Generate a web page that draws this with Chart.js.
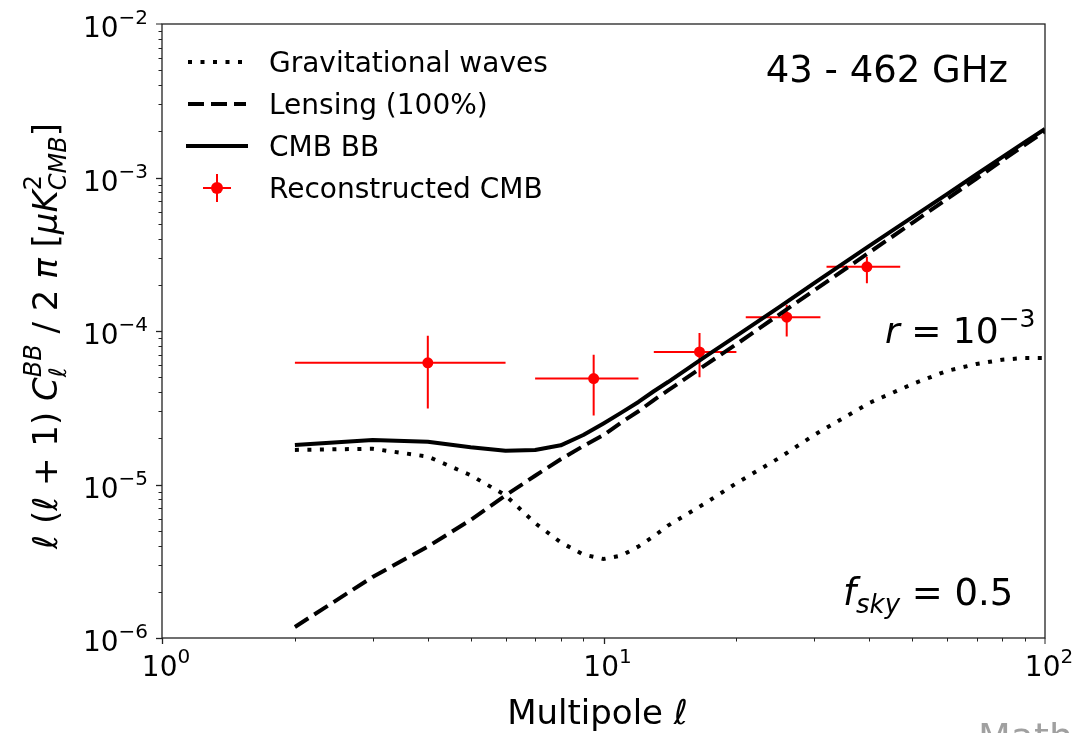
<!DOCTYPE html>
<html>
<head>
<meta charset="utf-8">
<script src="https://cdn.jsdelivr.net/npm/chart.js@4.4.0/dist/chart.umd.min.js"></script>
<style>
html, body { margin: 0; padding: 0; background: #fff; }
#wrap { width: 1074px; height: 733px; overflow: hidden; }
</style>
</head>
<body>
<div id="wrap"><canvas id="bbChart" width="1074" height="733"></canvas></div>
<script>
// multipoles and spectra
const ells = [2, 3, 4, 5, 6, 7, 8, 9, 10, 11, 12, 13, 14, 17, 20, 25, 30, 40, 50, 60, 70, 80, 90, 100];
const gravWaves = [1.68e-5, 1.71e-5, 1.52e-5, 1.15e-5, 8.5e-6, 5.6e-6, 4.2e-6, 3.5e-6, 3.27e-6, 3.45e-6, 3.95e-6, 4.6e-6,
                   5.4e-6, 7.55e-6, 1.02e-5, 1.49e-5, 2.1e-5, 3.4e-5, 4.5e-5, 5.5e-5, 6.1e-5, 6.5e-5, 6.67e-5, 6.67e-5];
const lensing = [1.18e-6, 2.5e-6, 3.94e-6, 5.87e-6, 8.5e-6, 1.14e-5, 1.46e-5, 1.78e-5, 2.1e-5, 2.55e-5, 3.0e-5, 3.55e-5,
                 4.1e-5, 6.0e-5, 8.2e-5, 1.28e-4, 1.84e-4, 3.25e-4, 5.05e-4, 7.25e-4, 9.85e-4, 1.29e-3, 1.63e-3, 2.0e-3];
const cmbBB = [1.81e-5, 1.95e-5, 1.90e-5, 1.75e-5, 1.66e-5, 1.68e-5, 1.80e-5, 2.1e-5, 2.5e-5, 2.95e-5, 3.45e-5, 4.05e-5,
               4.65e-5, 6.8e-5, 9.3e-5, 1.43e-4, 2.05e-4, 3.59e-4, 5.5e-4, 7.8e-4, 1.05e-3, 1.356e-3, 1.70e-3, 2.07e-3];

// reconstructed CMB band powers
const recEll = [4, 9.5, 16.5, 26, 39.5];
const recEllMin = [2, 7, 13, 21, 32];
const recEllMax = [6, 12, 20, 31, 47];
const recVal = [6.2e-5, 4.9e-5, 7.3e-5, 1.23e-4, 2.62e-4];
const recLow = [3.13e-5, 2.81e-5, 5.0e-5, 9.2e-5, 2.05e-4];
const recHigh = [9.3e-5, 7.0e-5, 9.7e-5, 1.48e-4, 3.05e-4];

const xTickValues = [1, 10, 100];
const xTickExps = ['0', '1', '2'];
const yTickValues = [1e-6, 1e-5, 1e-4, 1e-3, 1e-2];
const yTickExps = ['\u22126', '\u22125', '\u22124', '\u22123', '\u22122'];

const FONT = '"DejaVu Sans", "Liberation Sans", sans-serif';
const dotted = [4, 8.5];
const dashed = [16, 7];

function toPoints(xs, ys) {
    return xs.map((x, i) => ({ x: x, y: ys[i] }));
}

function fontFor(p, size) {
    return (p.i ? 'italic ' : '') + Math.round(size * (p.s || 1)) + 'px ' + FONT;
}

// lays out simple mathtext-like pieces (sub/superscripts)
function layoutMath(ctx, parts, size) {
    let x = 0, last = 0;
    const items = [];
    parts.forEach(p => {
        ctx.font = fontFor(p, size);
        const w = ctx.measureText(p.t).width;
        let px;
        if (p.tie) {
            px = last;
            x = Math.max(x, last + w);
        } else {
            px = x;
            last = x;
            x += w;
        }
        items.push({ p: p, px: px });
    });
    return { items: items, width: x };
}

function drawMath(ctx, parts, size, x, y, align) {
    const lay = layoutMath(ctx, parts, size);
    let ox = x;
    if (align === 'center') ox = x - lay.width / 2;
    if (align === 'right') ox = x - lay.width;
    ctx.textAlign = 'left';
    ctx.textBaseline = 'alphabetic';
    lay.items.forEach(it => {
        ctx.font = fontFor(it.p, size);
        ctx.fillText(it.p.t, ox + it.px, y + (it.p.dy || 0) * size);
    });
}

const errorBars = {
    id: 'errorBars',
    beforeDatasetDraw(chart, args) {
        if (args.index !== 3) return;
        const ctx = chart.ctx;
        const xs = chart.scales.x, ys = chart.scales.y;
        ctx.save();
        ctx.strokeStyle = '#ff0000';
        ctx.lineWidth = 2;
        ctx.setLineDash([]);
        recEll.forEach((l, i) => {
            const px = xs.getPixelForValue(l);
            const py = ys.getPixelForValue(recVal[i]);
            ctx.beginPath();
            ctx.moveTo(xs.getPixelForValue(recEllMin[i]), py);
            ctx.lineTo(xs.getPixelForValue(recEllMax[i]), py);
            ctx.moveTo(px, ys.getPixelForValue(recLow[i]));
            ctx.lineTo(px, ys.getPixelForValue(recHigh[i]));
            ctx.stroke();
        });
        ctx.restore();
    }
};

const axesDecor = {
    id: 'axesDecor',
    afterDraw(chart) {
        const ctx = chart.ctx;
        const a = chart.chartArea;
        const xs = chart.scales.x, ys = chart.scales.y;
        ctx.save();
        ctx.setLineDash([]);

        // frame
        ctx.strokeStyle = '#222';
        ctx.lineWidth = 1.3;
        ctx.strokeRect(a.left, a.top, a.right - a.left, a.bottom - a.top);

        // ticks, major and minor
        for (let d = 0; d < 2; d++) {
            for (let m = 1; m <= 9; m++) {
                const v = m * Math.pow(10, d);
                const px = Math.round(xs.getPixelForValue(v)) + 0.5;
                ctx.lineWidth = m === 1 ? 1.3 : 1;
                ctx.beginPath();
                ctx.moveTo(px, a.bottom);
                ctx.lineTo(px, a.bottom + (m === 1 ? 6 : 3.5));
                ctx.stroke();
            }
        }
        for (let d = -6; d < -2; d++) {
            for (let m = 1; m <= 9; m++) {
                const v = m * Math.pow(10, d);
                const py = Math.round(ys.getPixelForValue(v)) + 0.5;
                ctx.lineWidth = m === 1 ? 1.3 : 1;
                ctx.beginPath();
                ctx.moveTo(a.left, py);
                ctx.lineTo(a.left - (m === 1 ? 6 : 3.5), py);
                ctx.stroke();
            }
        }
        ctx.beginPath();
        ctx.moveTo(a.right, a.bottom); ctx.lineTo(a.right, a.bottom + 6);
        ctx.moveTo(a.left, a.top); ctx.lineTo(a.left - 6, a.top);
        ctx.stroke();

        ctx.fillStyle = '#000';
        xTickValues.forEach((v, i) => {
            drawMath(ctx, [{ t: '10' }, { t: xTickExps[i], s: 0.7, dy: -0.45 }], 28,
                xs.getPixelForValue(v) + 4, a.bottom + 38, 'center');
        });
        yTickValues.forEach((v, i) => {
            drawMath(ctx, [{ t: '10' }, { t: yTickExps[i], s: 0.7, dy: -0.45 }], 28,
                a.left - 14, ys.getPixelForValue(v) + 13, 'right');
        });

        // axis titles
        drawMath(ctx, [{ t: 'Multipole ' }, { t: '\u2113', i: 1 }], 34, (a.left + a.right) / 2 - 6, 724, 'center');

        ctx.save();
        ctx.translate(57, (a.top + a.bottom) / 2 + 5);
        ctx.rotate(-Math.PI / 2);
        drawMath(ctx, [
            { t: '\u2113', i: 1 }, { t: ' (' }, { t: '\u2113', i: 1 }, { t: ' + 1) ' },
            { t: 'C', i: 1 }, { t: 'BB', i: 1, s: 0.7, dy: -0.48 }, { t: '\u2113', i: 1, s: 0.7, dy: 0.25, tie: 1 },
            { t: ' / 2 ' }, { t: '\u03c0', i: 1 }, { t: ' [' }, { t: '\u03bcK', i: 1 },
            { t: '2', s: 0.7, dy: -0.48 }, { t: 'CMB', i: 1, s: 0.7, dy: 0.25, tie: 1 }, { t: ']' }
        ], 34, 0, 0, 'center');
        ctx.restore();

        // legend
        const rows = [62, 104, 146, 188];
        const names = chart.data.datasets.map(ds => ds.label);
        ctx.strokeStyle = '#000';
        ctx.lineWidth = 4;
        ctx.lineCap = 'butt';
        ctx.setLineDash(dotted);
        ctx.beginPath(); ctx.moveTo(188, rows[0]); ctx.lineTo(246, rows[0]); ctx.stroke();
        ctx.setLineDash(dashed);
        ctx.beginPath(); ctx.moveTo(188, rows[1]); ctx.lineTo(246, rows[1]); ctx.stroke();
        ctx.setLineDash([]);
        ctx.beginPath(); ctx.moveTo(186, rows[2]); ctx.lineTo(248, rows[2]); ctx.stroke();
        ctx.strokeStyle = '#ff0000';
        ctx.lineWidth = 2;
        ctx.beginPath();
        ctx.moveTo(203, rows[3]); ctx.lineTo(231, rows[3]);
        ctx.moveTo(217, rows[3] - 14); ctx.lineTo(217, rows[3] + 14);
        ctx.stroke();
        ctx.fillStyle = '#ff0000';
        ctx.beginPath(); ctx.arc(217, rows[3], 6, 0, Math.PI * 2); ctx.fill();

        ctx.fillStyle = '#000';
        ctx.font = '28px ' + FONT;
        ctx.textAlign = 'left';
        ctx.textBaseline = 'alphabetic';
        names.forEach((n, i) => ctx.fillText(n, 269, rows[i] + 10));

        // annotations
        ctx.font = '37px ' + FONT;
        ctx.textAlign = 'right';
        ctx.fillText('43 - 462 GHz', 1008, 82);
        drawMath(ctx, [{ t: 'r', i: 1 }, { t: ' = 10' }, { t: '\u22123', s: 0.7, dy: -0.45 }], 36, 885, 343, 'left');
        drawMath(ctx, [{ t: 'f', i: 1 }, { t: 'sky', i: 1, s: 0.7, dy: 0.22 }, { t: ' = 0.5' }], 37, 843, 605, 'left');

        ctx.fillStyle = '#a0a0a0';
        ctx.font = '38px ' + FONT;
        ctx.textAlign = 'left';
        ctx.fillText('Math', 978, 750);
        ctx.restore();
    }
};

const ctx = document.getElementById('bbChart').getContext('2d');

new Chart(ctx, {
    type: 'line',
    data: {
        datasets: [
            {
                label: 'Gravitational waves',
                data: toPoints(ells, gravWaves),
                borderColor: '#000',
                borderWidth: 4,
                borderDash: dotted,
                pointRadius: 0,
                fill: false,
                tension: 0
            },
            {
                label: 'Lensing (100%)',
                data: toPoints(ells, lensing),
                borderColor: '#000',
                borderWidth: 4,
                borderDash: dashed,
                pointRadius: 0,
                fill: false,
                tension: 0
            },
            {
                label: 'CMB BB',
                data: toPoints(ells, cmbBB),
                borderColor: '#000',
                borderWidth: 4,
                borderJoinStyle: 'round',
                pointRadius: 0,
                fill: false,
                tension: 0
            },
            {
                type: 'scatter',
                label: 'Reconstructed CMB',
                data: toPoints(recEll, recVal),
                backgroundColor: '#ff0000',
                borderColor: '#ff0000',
                pointRadius: 5.5,
                borderWidth: 0,
                showLine: false
            }
        ]
    },
    options: {
        responsive: false,
        animation: false,
        devicePixelRatio: 1,
        layout: { padding: { left: 162, right: 29, top: 24, bottom: 95 } },
        scales: {
            x: { type: 'logarithmic', min: 1, max: 100, display: false },
            y: { type: 'logarithmic', min: 1e-6, max: 1e-2, display: false }
        },
        plugins: {
            legend: { display: false },
            tooltip: { enabled: false }
        }
    },
    plugins: [errorBars, axesDecor]
});
</script>
</body>
</html>
